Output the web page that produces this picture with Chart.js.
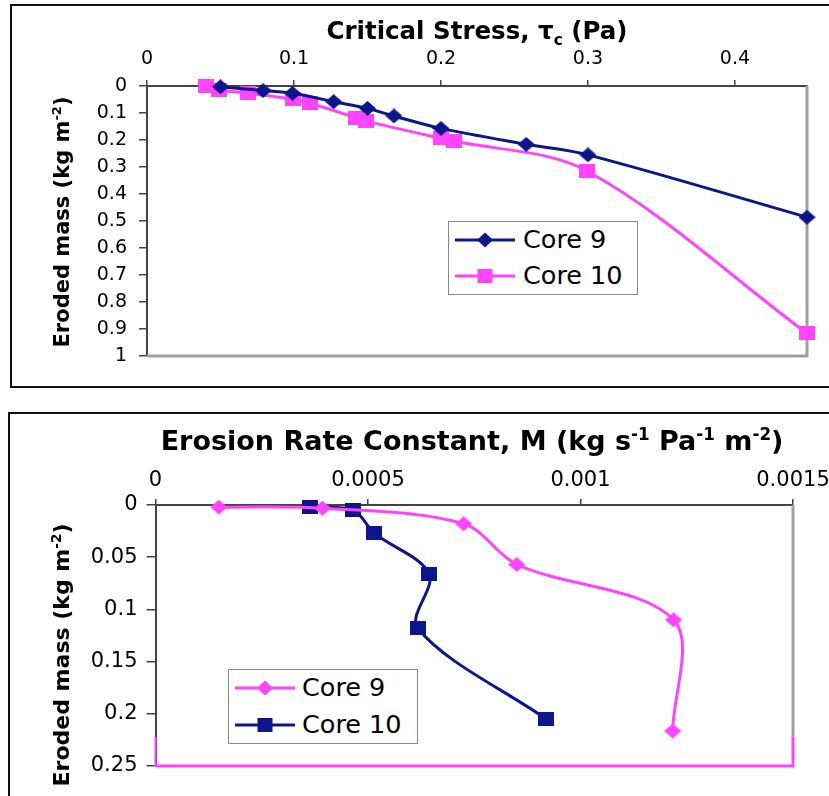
<!DOCTYPE html>
<html><head><meta charset="utf-8">
<script src="https://cdn.jsdelivr.net/npm/chart.js@4.4.1/dist/chart.umd.min.js"></script>
<style>
body{margin:0;width:829px;height:796px;overflow:hidden;background:#fff;position:relative;font-family:"DejaVu Sans",sans-serif;color:#000}
.frame{position:absolute;border:2px solid #111;border-right:none;box-sizing:border-box}
canvas{position:absolute;left:0}
.title{position:absolute;font-weight:bold;font-size:24.5px;white-space:nowrap;transform:translate(-50%,-50%);line-height:1}
.ylab{position:absolute;font-weight:bold;font-size:21px;white-space:nowrap;transform:translate(-50%,-50%) rotate(-90deg);line-height:1}
sub,sup{font-size:0.62em;line-height:0}
.legend{position:absolute;border:1px solid #888;background:#fff;box-sizing:border-box}
.item{position:absolute;font-size:25.5px;white-space:nowrap;line-height:1;transform:translateY(-50%)}
.sw{position:absolute}
</style></head>
<body>
<div class="frame" style="left:10px;top:4px;width:830px;height:384px"></div>
<div class="frame" style="left:8px;top:412px;width:830px;height:400px"></div>
<canvas id="c1" width="829" height="390" style="top:0"></canvas>
<canvas id="c2" width="829" height="396" style="top:400px"></canvas>
<div class="title" style="left:477px;top:31px">Critical Stress, τ<sub>c</sub> (Pa)</div>
<div class="ylab" style="left:62px;top:222px">Eroded mass (kg m<sup>-2</sup>)</div>
<div class="title" style="left:472px;top:440px;font-size:27px">Erosion Rate Constant, M (kg s<sup>-1</sup> Pa<sup>-1</sup> m<sup>-2</sup>)</div>
<div class="ylab" style="left:62px;top:655px;font-size:22px">Eroded mass (kg m<sup>-2</sup>)</div>

<div class="legend" style="left:448px;top:221px;width:190px;height:74px"></div>
<svg class="sw" style="left:455px;top:230px" width="62" height="20"><line x1="0" y1="10" x2="60" y2="10" stroke="#0c168a" stroke-width="3"/><polygon points="30,2.5 38,10 30,17.5 22,10" fill="#0c168a"/></svg>
<div class="item" style="left:523px;top:240px">Core 9</div>
<svg class="sw" style="left:455px;top:266px" width="62" height="20"><line x1="0" y1="10" x2="60" y2="10" stroke="#ff44ff" stroke-width="3"/><rect x="22.5" y="3" width="15" height="14" fill="#ff44ff"/></svg>
<div class="item" style="left:523px;top:276px">Core 10</div>

<div class="legend" style="left:228px;top:669px;width:190px;height:75px"></div>
<svg class="sw" style="left:235px;top:678px" width="62" height="20"><line x1="0" y1="10" x2="60" y2="10" stroke="#ff44ff" stroke-width="3"/><polygon points="30,2.5 38,10 30,17.5 22,10" fill="#ff44ff"/></svg>
<div class="item" style="left:302px;top:688px">Core 9</div>
<svg class="sw" style="left:235px;top:715px" width="62" height="20"><line x1="0" y1="10" x2="60" y2="10" stroke="#0c168a" stroke-width="3"/><rect x="22.5" y="3" width="15" height="14" fill="#0c168a"/></svg>
<div class="item" style="left:302px;top:725px">Core 10</div>

<script>
// ---- Top chart data ----
const stressTicks = [0, 0.1, 0.2, 0.3, 0.4];
const stressTickLabels = ['0', '0.1', '0.2', '0.3', '0.4'];
const massTicksTop = [0, 0.1, 0.2, 0.3, 0.4, 0.5, 0.6, 0.7, 0.8, 0.9, 1];
const massTickLabelsTop = ['0', '0.1', '0.2', '0.3', '0.4', '0.5', '0.6', '0.7', '0.8', '0.9', '1'];
const core9Stress = [0.050, 0.079, 0.099, 0.127, 0.150, 0.168, 0.200, 0.258, 0.300, 0.449];
const core9MassTop = [0.003, 0.017, 0.027, 0.058, 0.083, 0.111, 0.157, 0.216, 0.255, 0.486];
const core10Stress = [0.040, 0.049, 0.069, 0.099, 0.111, 0.142, 0.149, 0.200, 0.209, 0.299, 0.449];
const core10MassTop = [0.000, 0.015, 0.027, 0.049, 0.064, 0.117, 0.130, 0.194, 0.204, 0.314, 0.916];

// ---- Bottom chart data ----
const rateTicks = [0, 0.0005, 0.001, 0.0015];
const rateTickLabels = ['0', '0.0005', '0.001', '0.0015'];
const massTicksBot = [0, 0.05, 0.1, 0.15, 0.2, 0.25];
const massTickLabelsBot = ['0', '0.05', '0.1', '0.15', '0.2', '0.25'];
const core9Rate = [0.000149, 0.000393, 0.000725, 0.000850, 0.001219, 0.001217];
const core9MassBot = [0.002, 0.003, 0.018, 0.057, 0.110, 0.2165];
const core10Rate = [0.000363, 0.000465, 0.000515, 0.000644, 0.000617, 0.000919];
const core10MassBot = [0.002, 0.005, 0.027, 0.066, 0.118, 0.205];

const NAVY = '#0c168a', PINK = '#ff44ff', AXIS = '#444';

function diamond(color, w, h) {
  const c = document.createElement('canvas'); c.width = w; c.height = h;
  const x = c.getContext('2d'); x.fillStyle = color; x.beginPath();
  x.moveTo(w/2, 0); x.lineTo(w, h/2); x.lineTo(w/2, h); x.lineTo(0, h/2); x.closePath(); x.fill();
  return c;
}
function square(color, w, h) {
  const c = document.createElement('canvas'); c.width = w; c.height = h;
  const x = c.getContext('2d'); x.fillStyle = color; x.fillRect(0, 0, w, h);
  return c;
}
function pts(xs, ys) { return xs.map((v, i) => ({x: v, y: ys[i]})); }

function xAxis(vals, labels, max, tl, pad, size, h) {
  return {
    type: 'linear', position: 'top', min: 0, max: max,
    afterBuildTicks: s => { s.ticks = vals.map(v => ({value: v})); },
    afterFit: s => { s.height = h; s.paddingLeft = 0; s.paddingRight = 0; },
    ticks: {callback: (v, i) => labels[i], color: '#000', font: {family: 'DejaVu Sans', size: size}, padding: pad, maxRotation: 0, autoSkip: false},
    grid: {drawOnChartArea: false, drawTicks: true, tickLength: tl, color: AXIS, lineWidth: 1.5},
    border: {display: true, color: AXIS, width: 2}
  };
}
function yAxis(vals, labels, max, tl, pad, size, w) {
  return {
    type: 'linear', position: 'left', min: 0, max: max, reverse: true,
    afterBuildTicks: s => { s.ticks = vals.map(v => ({value: v})); },
    afterFit: s => { s.width = w; s.paddingTop = 0; s.paddingBottom = 0; },
    ticks: {callback: (v, i) => labels[i], color: '#000', font: {family: 'DejaVu Sans', size: size}, padding: pad, autoSkip: false},
    grid: {drawOnChartArea: false, drawTicks: true, tickLength: tl, color: AXIS, lineWidth: 1.5},
    border: {display: true, color: AXIS, width: 2}
  };
}
function ds(data, color, style) {
  return {data: data, showLine: true, borderColor: color, backgroundColor: color, borderWidth: 3,
    tension: 0.33, pointStyle: style, pointRadius: 8, clip: false};
}

const borderTop = {
  id: 'borderTop',
  beforeDatasetsDraw(chart) {
    const {ctx, chartArea: a} = chart;
    ctx.save(); ctx.strokeStyle = '#a0a0a0'; ctx.lineWidth = 3;
    ctx.beginPath(); ctx.moveTo(a.right, a.top); ctx.lineTo(a.right, a.bottom); ctx.lineTo(a.left, a.bottom); ctx.stroke();
    ctx.restore();
  }
};
const PINK_EDGE_FROM = 0.222;
const borderBot = {
  id: 'borderBot',
  beforeDatasetsDraw(chart) {
    const {ctx, chartArea: a} = chart;
    const yp = chart.scales.y.getPixelForValue(PINK_EDGE_FROM);
    ctx.save(); ctx.lineWidth = 3;
    ctx.strokeStyle = '#a0a0a0';
    ctx.beginPath(); ctx.moveTo(a.right, a.top); ctx.lineTo(a.right, yp); ctx.stroke();
    ctx.strokeStyle = PINK;
    ctx.beginPath(); ctx.moveTo(a.right, yp); ctx.lineTo(a.right, a.bottom); ctx.lineTo(a.left, a.bottom); ctx.stroke();
    ctx.lineWidth = 2;
    ctx.beginPath(); ctx.moveTo(a.left, yp); ctx.lineTo(a.left, a.bottom); ctx.stroke();
    ctx.restore();
  }
};

const common = {responsive: false, animation: false, devicePixelRatio: 1,
  plugins: {legend: {display: false}, tooltip: {enabled: false}}};

new Chart(document.getElementById('c1'), {
  type: 'scatter',
  data: {datasets: [
    ds(pts(core9Stress, core9MassTop), NAVY, diamond(NAVY, 17, 15)),
    ds(pts(core10Stress, core10MassTop), PINK, square(PINK, 16, 14))
  ]},
  options: Object.assign({}, common, {
    layout: {padding: {left: 0, right: 22, top: 0, bottom: 34}},
    scales: {
      x: xAxis(stressTicks, stressTickLabels, 0.449, 6, 10, 19, 86),
      y: yAxis(massTicksTop, massTickLabelsTop, 1, 8, 12, 19, 147)
    }
  }),
  plugins: [borderTop]
});

new Chart(document.getElementById('c2'), {
  type: 'scatter',
  data: {datasets: [
    ds(pts(core9Rate, core9MassBot), PINK, diamond(PINK, 17, 15)),
    ds(pts(core10Rate, core10MassBot), NAVY, square(NAVY, 16, 14))
  ]},
  options: Object.assign({}, common, {
    layout: {padding: {left: 0, right: 36, top: 0, bottom: 30}},
    scales: {
      x: xAxis(rateTicks, rateTickLabels, 0.0015, 6, 6, 21, 105),
      y: yAxis(massTicksBot, massTickLabelsBot, 0.25, 9, 9, 21, 155.5)
    }
  }),
  plugins: [borderBot]
});
</script>
</body></html>
